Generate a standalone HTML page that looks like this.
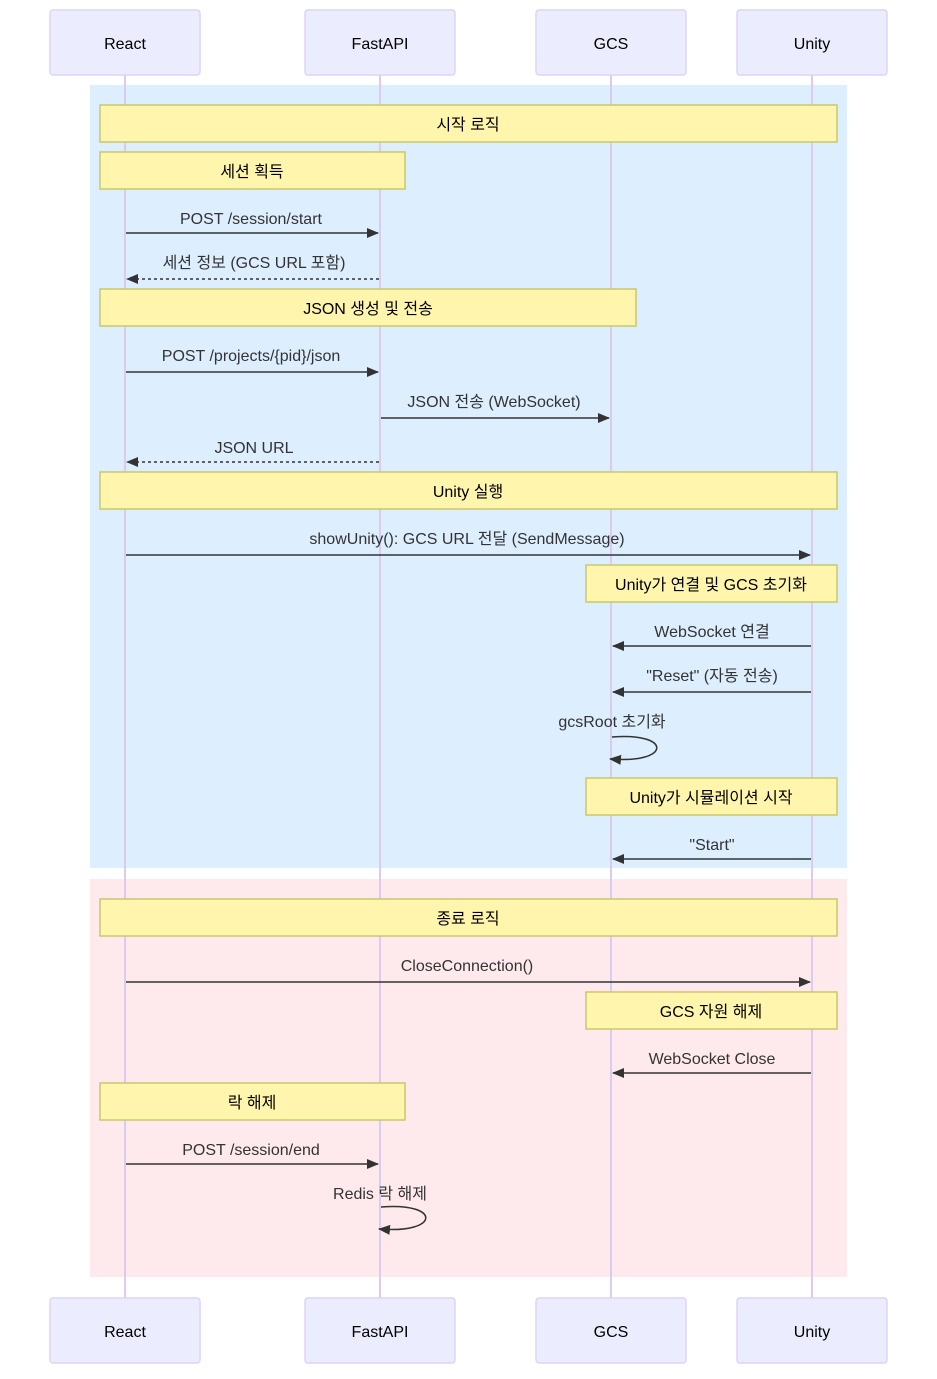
<!DOCTYPE html>
<html><head><meta charset="utf-8"><style>
html,body{margin:0;padding:0;background:#fff;}
svg text{font-family:"Liberation Sans","Noto Sans CJK KR",sans-serif;font-size:16px;}
</style></head><body>
<svg width="937" height="1374" viewBox="0 0 937 1374" xmlns="http://www.w3.org/2000/svg">
<defs>
<marker id="a" viewBox="0 0 12 12" refX="11" refY="6" markerWidth="12" markerHeight="12" markerUnits="userSpaceOnUse" orient="auto"><path d="M0,1 L12,6 L0,11 z" fill="#333"/></marker>
</defs>
<rect x="90" y="85" width="757" height="783" fill="#ddeeff"/>
<rect x="90" y="879" width="757" height="398" fill="#feeaec"/>
<g stroke="#d9ccf0" stroke-width="2">
<line x1="125" y1="75" x2="125" y2="1298"/>
<line x1="380" y1="75" x2="380" y2="1298"/>
<line x1="611" y1="75" x2="611" y2="1298"/>
<line x1="812" y1="75" x2="812" y2="1298"/>
</g>
<g fill="#ececff" stroke="#ddd4f6" stroke-width="1.5">
<rect x="50" y="10" width="150" height="65" rx="3"/><rect x="305" y="10" width="150" height="65" rx="3"/><rect x="536" y="10" width="150" height="65" rx="3"/><rect x="737" y="10" width="150" height="65" rx="3"/>
<rect x="50" y="1298" width="150" height="65" rx="3"/><rect x="305" y="1298" width="150" height="65" rx="3"/><rect x="536" y="1298" width="150" height="65" rx="3"/><rect x="737" y="1298" width="150" height="65" rx="3"/>
</g>
<g fill="#000" text-anchor="middle">
<text x="125" y="49">React</text><text x="380" y="49">FastAPI</text><text x="611" y="49">GCS</text><text x="812" y="49">Unity</text>
<text x="125" y="1337">React</text><text x="380" y="1337">FastAPI</text><text x="611" y="1337">GCS</text><text x="812" y="1337">Unity</text>
</g>
<g fill="#fff5ad" stroke="#c8c86a" stroke-width="1.5">
<rect x="100" y="105" width="737" height="37"/>
<rect x="100" y="152" width="305" height="37"/>
<rect x="100" y="289" width="536" height="37"/>
<rect x="100" y="472" width="737" height="37"/>
<rect x="586" y="565" width="251" height="37"/>
<rect x="586" y="778" width="251" height="37"/>
<rect x="100" y="899" width="737" height="37"/>
<rect x="586" y="992" width="251" height="37"/>
<rect x="100" y="1083" width="305" height="37"/>
</g>
<g fill="#000" text-anchor="middle">
<text x="468" y="130">시작 로직</text>
<text x="252" y="177">세션 획득</text>
<text x="368" y="314">JSON 생성 및 전송</text>
<text x="468" y="497">Unity 실행</text>
<text x="711" y="590">Unity가 연결 및 GCS 초기화</text>
<text x="711" y="803">Unity가 시뮬레이션 시작</text>
<text x="468" y="924">종료 로직</text>
<text x="711" y="1017">GCS 자원 해제</text>
<text x="252" y="1108">락 해제</text>
</g>
<g fill="#333" text-anchor="middle">
<text x="251" y="224">POST /session/start</text>
<text x="254" y="268">세션 정보 (GCS URL 포함)</text>
<text x="251" y="361">POST /projects/{pid}/json</text>
<text x="494" y="407">JSON 전송 (WebSocket)</text>
<text x="254" y="453">JSON URL</text>
<text x="467" y="544">showUnity(): GCS URL 전달 (SendMessage)</text>
<text x="712" y="637">WebSocket 연결</text>
<text x="712" y="681">"Reset" (자동 전송)</text>
<text x="612" y="727">gcsRoot 초기화</text>
<text x="712" y="850">"Start"</text>
<text x="467" y="971">CloseConnection()</text>
<text x="712" y="1064">WebSocket Close</text>
<text x="251" y="1155">POST /session/end</text>
<text x="380" y="1199">Redis 락 해제</text>
</g>
<g stroke="#333" stroke-width="1.5" fill="none" marker-end="url(#a)">
<line x1="126" y1="233" x2="378" y2="233"/>
<line x1="379" y1="279" x2="127" y2="279" stroke-dasharray="3,3"/>
<line x1="126" y1="372" x2="378" y2="372"/>
<line x1="381" y1="418" x2="609" y2="418"/>
<line x1="379" y1="462" x2="127" y2="462" stroke-dasharray="3,3"/>
<line x1="126" y1="555" x2="810" y2="555"/>
<line x1="811" y1="646" x2="613" y2="646"/>
<line x1="811" y1="692" x2="613" y2="692"/>
<path d="M612,737 C672,732 672,764 610,759"/>
<line x1="811" y1="859" x2="613" y2="859"/>
<line x1="126" y1="982" x2="810" y2="982"/>
<line x1="811" y1="1073" x2="613" y2="1073"/>
<line x1="126" y1="1164" x2="378" y2="1164"/>
<path d="M381,1207 C441,1202 441,1234 379,1229"/>
</g>
</svg>
</body></html>
